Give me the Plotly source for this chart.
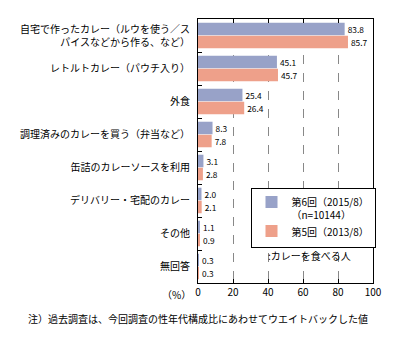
import plotly.graph_objects as go

categories = [
    "自宅で作ったカレー（ルウを使う／ス<br>パイスなどから作る、など）",
    "レトルトカレー（パウチ入り）",
    "外食",
    "調理済みのカレーを買う（弁当など）",
    "缶詰のカレーソースを利用",
    "デリバリー・宅配のカレー",
    "その他",
    "無回答",
]
series6 = [83.8, 45.1, 25.4, 8.3, 3.1, 2.0, 1.1, 0.3]
series5 = [85.7, 45.7, 26.4, 7.8, 2.8, 2.1, 0.9, 0.3]
name6 = "第6回（2015/8）<br>（n=10144）"
name5 = "第5回（2013/8）"
xticks = [0, 20, 40, 60, 80, 100]

FONT = "Noto Sans CJK JP"
BLUE = "#98A2C8"
ORANGE = "#EEA08A"

fig = go.Figure()
fig.add_trace(go.Bar(
    y=categories, x=series6, orientation="h", name=name6,
    marker=dict(color=BLUE, line=dict(width=0)),
    text=[f"{v:.1f}" for v in series6], textposition="outside",
    textfont=dict(size=10, color="black", family=FONT), cliponaxis=False,
))
fig.add_trace(go.Bar(
    y=categories, x=series5, orientation="h", name=name5,
    marker=dict(color=ORANGE, line=dict(width=0)),
    text=[f"{v:.1f}" for v in series5], textposition="outside",
    textfont=dict(size=10, color="black", family=FONT), cliponaxis=False,
))

fig.update_layout(
    width=398, height=338,
    margin=dict(l=198, r=25, t=19, b=55),
    paper_bgcolor="white", plot_bgcolor="white",
    font=dict(family=FONT, size=10, color="black"),
    barmode="group", bargap=0.21, bargroupgap=0.04,
    showlegend=True,
    legend=dict(
        x=0.3, y=0.36, xanchor="left", yanchor="top",
        bordercolor="black", borderwidth=1, bgcolor="white",
        font=dict(size=10, family=FONT), valign="top",
        traceorder="normal", itemwidth=30, tracegroupgap=0,
    ),
    xaxis=dict(
        range=[0, 100], tickvals=xticks, ticktext=[str(t) for t in xticks],
        showgrid=True, gridcolor="#888888", griddash="dash", gridwidth=1,
        showline=True, linecolor="black", linewidth=1, mirror="ticks",
        ticks="inside", ticklen=4, tickcolor="black", zeroline=False,
        tickfont=dict(size=10),
    ),
    yaxis=dict(
        autorange="reversed", showline=True, linecolor="black", linewidth=1,
        mirror=True, ticks="inside", tickson="boundaries", ticklen=4,
        tickcolor="black", showgrid=False, tickfont=dict(size=10),
        ticklabelstandoff=5,
    ),
    annotations=[
        dict(text=":カレーを食べる人", xref="paper", yref="paper", x=0.39, y=0.106,
             xanchor="left", yanchor="middle", showarrow=False, font=dict(size=10)),
        dict(text="（%）", xref="paper", yref="paper", x=-0.03, y=-0.045,
             xanchor="right", yanchor="middle", showarrow=False, font=dict(size=10)),
        dict(text="注）過去調査は、今回調査の性年代構成比にあわせてウエイトバックした値",
             xref="paper", yref="paper", x=-0.983, y=-0.133, xanchor="left",
             yanchor="middle", showarrow=False, font=dict(size=10)),
    ],
)
fig.write_html("out.html")
